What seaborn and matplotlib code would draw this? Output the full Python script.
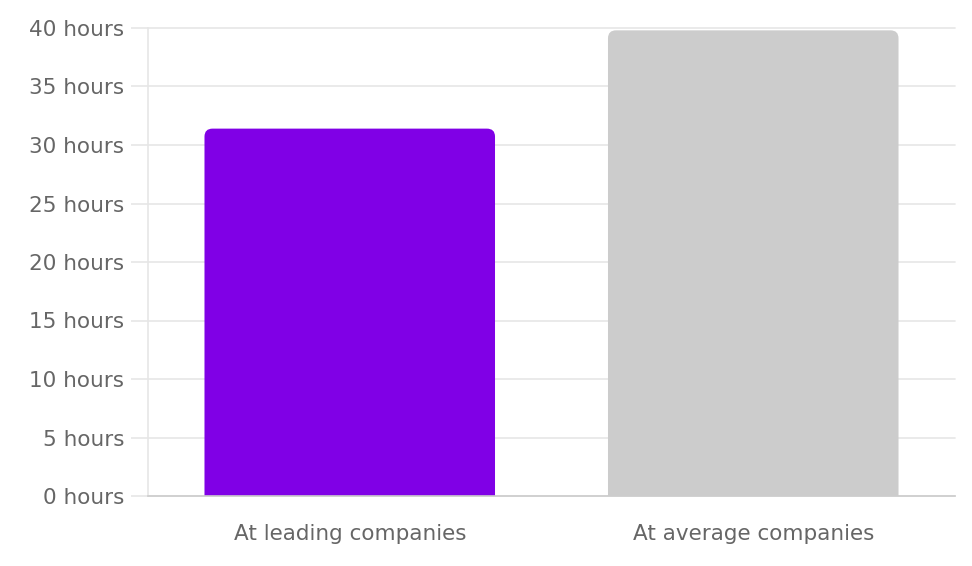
import matplotlib
matplotlib.use('Agg')
import matplotlib.pyplot as plt
import seaborn as sns
import pandas as pd
from matplotlib.patches import FancyBboxPatch

# data
categories = ['At leading companies', 'At average companies']
hours = [31.4, 39.8]
colors = ['#8000e6', '#cccccc']

df = pd.DataFrame({'category': categories, 'hours': hours})

sns.set_style('white')
plt.rcParams['font.family'] = ['DejaVu Sans']

fig = plt.figure(figsize=(9.72, 5.66), dpi=100)
ax = fig.add_axes([148 / 972, (566 - 496) / 566, 807 / 972, 468 / 566])

sns.barplot(data=df, x='category', y='hours', hue='category', palette=colors,
            saturation=1, width=0.72, legend=False, ax=ax)

# swap plain bars for ones with rounded tops
for bar in list(ax.patches):
    x, w, h = bar.get_x(), bar.get_width(), bar.get_height()
    fc = bar.get_facecolor()
    bar.set_visible(False)
    r = 0.02
    rounded = FancyBboxPatch((x + r, -2 + r * 34), w - 2 * r, h + 2 - 2 * r * 34,
                             boxstyle=f'round,pad={r},rounding_size={r}',
                             mutation_aspect=34, facecolor=fc, edgecolor='none',
                             zorder=2)
    ax.add_patch(rounded)

ax.set_xlim(-0.5, 1.5)
ax.set_ylim(0, 40)
ax.set_yticks(range(0, 41, 5))
ax.set_yticklabels([f'{v} hours' for v in range(0, 41, 5)])
ax.set_xlabel('')
ax.set_ylabel('')

ax.grid(axis='y', color='#e6e6e6', linewidth=1.2, zorder=0)
for line in ax.get_ygridlines():
    line.set_clip_on(False)
ax.set_axisbelow(True)
for s in ['top', 'right']:
    ax.spines[s].set_visible(False)
ax.spines['left'].set_color('#e6e6e6')
ax.spines['left'].set_linewidth(1.2)
ax.spines['bottom'].set_color('#cccccc')
ax.spines['bottom'].set_linewidth(1.2)
ax.spines['bottom'].set_zorder(3)

ax.tick_params(axis='y', left=True, length=12, width=1.2, color='#e6e6e6',
               pad=5, labelsize=15.5, labelcolor='#666666')
ax.tick_params(axis='x', bottom=False, length=0, pad=20, labelsize=15.5,
               labelcolor='#666666')

fig.savefig('out.png', dpi=100)
